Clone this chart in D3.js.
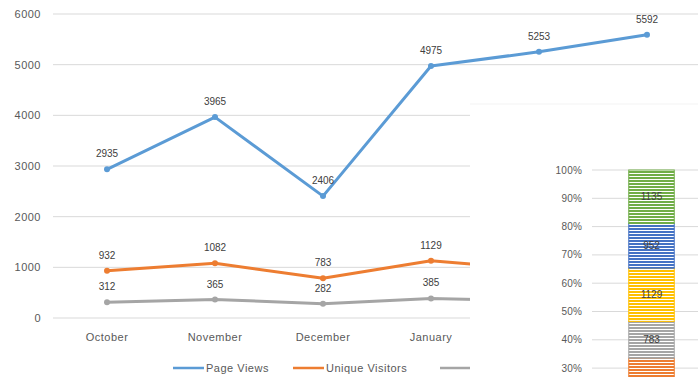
<!DOCTYPE html>
<html><head><meta charset="utf-8">
<script src="https://cdn.jsdelivr.net/npm/d3@7"></script>
<style>body{margin:0;background:#fff;}svg{display:block;font-family:"Liberation Sans",Arial,sans-serif;}</style>
</head><body><div id="chart"></div>
<script>
const months = ["October","November","December","January","February","March"];
const pageViews = [2935, 3965, 2406, 4975, 5253, 5592];
const uniqueVisitors = [932, 1082, 783, 1129, 952, 1135];
const sessions = [312, 365, 282, 385, 340, 410];
const seriesNames = ["Page Views","Unique Visitors","Sessions"];
const seriesColors = ["#5B9BD5","#ED7D31","#A5A5A5"];
const yTicks = [0,1000,2000,3000,4000,5000,6000];
const barColors = ["#5B9BD5","#ED7D31","#A5A5A5","#FFC000","#4472C4","#70AD47"];
const pctTicks = [0.3,0.4,0.5,0.6,0.7,0.8,0.9,1];

const W = 698, H = 377;
const panel = {x: 470, y: 104};
const hidden = (px, py) => px > panel.x && py > panel.y;

const svg = d3.select("#chart").append("svg").attr("width", W).attr("height", H);

// ---- line chart ----
const x = d3.scaleBand().domain(months).range([53, 701]);
const y = d3.scaleLinear().domain([0, 6000]).range([318, 14]);
const cx = m => x(m) + x.bandwidth()/2;

const g = svg.append("g");
g.selectAll("line.grid").data(yTicks).join("line")
  .attr("x1", 53).attr("x2", W).attr("y1", d => y(d)).attr("y2", d => y(d))
  .attr("stroke", "#d9d9d9").attr("stroke-width", 1);
g.selectAll("text.ylab").data(yTicks).join("text")
  .attr("x", 41).attr("y", d => y(d) + 4).attr("text-anchor", "end")
  .attr("font-size", 11).attr("letter-spacing", 0.5).attr("fill", "#595959")
  .text(d => d);
g.selectAll("text.xlab").data(months.filter(m => !hidden(cx(m), 341))).join("text")
  .attr("x", d => cx(d)).attr("y", 341).attr("text-anchor", "middle")
  .attr("font-size", 11).attr("letter-spacing", 0.5).attr("fill", "#595959")
  .text(d => d);

const allSeries = [pageViews, uniqueVisitors, sessions];
const line = d3.line().x((d,i) => cx(months[i])).y(d => y(d));
allSeries.slice().reverse().forEach((vals, ri) => {
  const si = allSeries.length - 1 - ri;
  const pts = vals.map((v, i) => ({v, m: months[i]}));
  g.append("path").attr("d", line(vals)).attr("fill", "none")
    .attr("stroke", seriesColors[si]).attr("stroke-width", 3).attr("stroke-linejoin", "round");
  g.selectAll(null).data(pts).join("circle")
    .attr("cx", d => cx(d.m)).attr("cy", d => y(d.v)).attr("r", 3)
    .attr("fill", seriesColors[si]);
  g.selectAll(null).data(pts.filter(d => !hidden(cx(d.m), y(d.v) - 20))).join("text")
    .attr("x", d => cx(d.m)).attr("y", d => y(d.v) - 12)
    .attr("text-anchor", "middle").attr("font-size", 10).attr("fill", "#404040")
    .text(d => d.v);
});

// legend
const legX = [173, 293, 440];
seriesNames.forEach((n, i) => {
  g.append("line").attr("x1", legX[i]).attr("x2", legX[i] + 31).attr("y1", 368).attr("y2", 368)
    .attr("stroke", seriesColors[i]).attr("stroke-width", 2.5);
  if (!hidden(legX[i] + 33, 368))
    g.append("text").attr("x", legX[i] + 33).attr("y", 372).attr("font-size", 11)
      .attr("letter-spacing", 0.5).attr("fill", "#595959").text(n);
});

// ---- overlay panel with 100% stacked bar ----
svg.append("rect").attr("x", panel.x).attr("y", panel.y).attr("width", W - panel.x).attr("height", H - panel.y)
  .attr("fill", "#fff");
svg.append("line").attr("x1", panel.x).attr("x2", W).attr("y1", panel.y).attr("y2", panel.y)
  .attr("stroke", "#f3f3f3").attr("stroke-width", 1);

const total = d3.sum(uniqueVisitors);
const py = d3.scaleLinear().domain([0, 1]).range([453, 170]);
const bx = d3.scaleBand().domain(["Unique Visitors"]).range([606, 697]).paddingInner(0).paddingOuter(0.5);

const defs = svg.append("defs");
barColors.forEach((c, i) => {
  const p = defs.append("pattern").attr("id", "pat" + i).attr("patternUnits", "userSpaceOnUse")
    .attr("width", 6).attr("height", 3);
  p.append("rect").attr("width", 6).attr("height", 3).attr("fill", "#fff");
  p.append("rect").attr("width", 6).attr("height", 2).attr("fill", c);
});

const pg = svg.append("g");
pg.selectAll("line").data(pctTicks).join("line")
  .attr("x1", 592).attr("x2", W).attr("y1", d => py(d)).attr("y2", d => py(d))
  .attr("stroke", "#d9d9d9");
pg.selectAll("text").data(pctTicks).join("text")
  .attr("x", 582).attr("y", d => py(d) + 3.5).attr("text-anchor", "end")
  .attr("font-size", 10).attr("letter-spacing", 0.2).attr("fill", "#595959")
  .text(d => d3.format(".0%")(d));

let cum = 0;
const stacks = uniqueVisitors.map(v => { const s = {v, y0: cum / total, y1: (cum + v) / total}; cum += v; return s; });
const bg = svg.append("g");
bg.selectAll("rect").data(stacks).join("rect")
  .attr("x", bx("Unique Visitors")).attr("width", bx.bandwidth())
  .attr("y", d => py(d.y1)).attr("height", d => py(d.y0) - py(d.y1))
  .attr("fill", (d,i) => "url(#pat" + i + ")")
  .attr("stroke", (d,i) => barColors[i]).attr("stroke-width", 1);
bg.selectAll("text").data(stacks.filter(d => py(d.y0) < H)).join("text")
  .attr("x", bx("Unique Visitors") + bx.bandwidth()/2).attr("y", d => (py(d.y0) + py(d.y1))/2 + 3.5)
  .attr("text-anchor", "middle").attr("font-size", 10).attr("fill", "#404040")
  .text(d => d.v);
</script></body></html>
